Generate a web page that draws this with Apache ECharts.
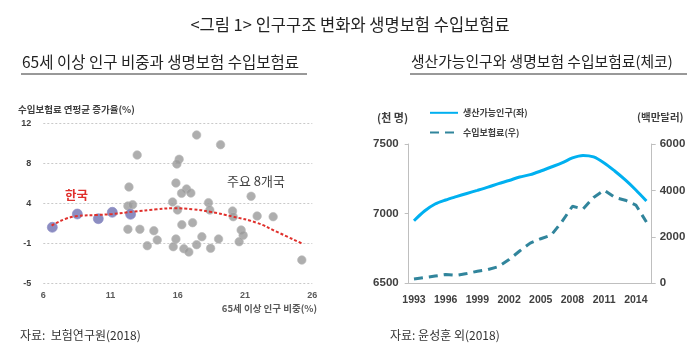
<!DOCTYPE html>
<html>
<head>
<meta charset="utf-8">
<script src="https://cdn.jsdelivr.net/npm/echarts@6/dist/echarts.min.js"></script>
<style>
html,body{margin:0;padding:0;background:#fff;}
#chart{width:700px;height:359px;}
</style>
</head>
<body>
<div id="chart"></div>
<script>
// ---------- Left chart data (scatter) ----------
const leftXTicks = [6, 11, 16, 21, 26];
const leftYTickLabels = ['-5', '-1', '4', '8', '12'];   // printed labels on evenly spaced gridlines
const koreaX = [6.67, 8.53, 10.09, 11.13, 12.49];
const koreaY = [0.6, 1.93, 1.46, 2.1, 1.9];
const othersX = [17.40, 19.18, 12.98, 16.10, 15.93, 12.37, 15.86, 16.65, 16.28, 16.97,
                 21.45, 15.61, 18.28, 12.29, 12.64, 15.98, 18.38, 20.07, 20.12, 21.90,
                 23.09, 12.29, 13.18, 14.22, 16.30, 17.10, 20.71, 20.86, 20.56, 14.47,
                 15.86, 17.79, 19.03, 13.73, 15.66, 17.40, 18.44, 16.45, 16.82, 25.22];
const othersY = [9.83, 8.86, 7.83, 7.4, 6.93, 4.63, 5.03, 4.43, 4.0, 4.03,
                 3.7, 3.13, 3.06, 2.73, 2.86, 2.33, 2.33, 2.23, 1.66, 1.73,
                 1.66, 0.4, 0.4, 0.26, 0.86, 1.06, 0.33, -0.2, -0.84, -0.67,
                 -0.57, -0.34, -0.57, -1.24, -1.34, -1.14, -1.5, -1.54, -1.87, -2.67];
const trendX = [6.62, 8.53, 9.97, 11.13, 12.69, 14.43, 15.66, 17.14, 18.38, 20.12, 21.85, 23.34, 25.2];
const trendY = [0.76, 1.73, 1.83, 1.93, 2.16, 2.4, 2.5, 2.4, 2.16, 1.66, 1.06, 0.16, -1.0];

// ---------- Right chart data (Czech) ----------
const years = ['1993','1994','1995','1996','1997','1998','1999','2000','2001','2002','2003','2004',
               '2005','2006','2007','2008','2009','2010','2011','2012','2013','2014','2015'];
const workingPop = [6949, 7019, 7069, 7098, 7122, 7145, 7167, 7190, 7216, 7238, 7263, 7280,
                    7306, 7335, 7364, 7400, 7418, 7407, 7364, 7306, 7242, 7170, 7091];
const premiums = [185, 250, 314, 378, 340, 420, 520, 590, 720, 1020, 1390, 1730,
                  1920, 2080, 2650, 3320, 3200, 3700, 4010, 3700, 3580, 3370, 2640];
const leftYTicksR = [6500, 7000, 7500];
const rightYTicksR = [0, 2000, 4000, 6000];

const KR = "'Noto Sans CJK KR', 'Noto Sans', sans-serif";
const NARROW = "'Liberation Sans Narrow', 'Liberation Sans', 'DejaVu Sans Condensed', sans-serif";

const chart = echarts.init(document.getElementById('chart'), null, {renderer: 'canvas'});

const option = {
  backgroundColor: '#ffffff',
  animation: false,
  grid: [
    {left: 43.3, width: 269, top: 123.3, height: 160},
    {left: 408.7, width: 243, top: 144, height: 139.3}
  ],
  legend: {
    orient: 'vertical',
    left: 424,
    top: 103,
    itemWidth: 28,
    itemHeight: 12,
    itemGap: 10,
    itemStyle: {color: 'rgba(0,0,0,0)', borderWidth: 0},
    data: ['생산가능인구(좌)', '수입보험료(우)'],
    textStyle: {fontFamily: KR, fontSize: 9, fontWeight: 'bold', color: '#404040'}
  },
  xAxis: [
    {
      gridIndex: 0, type: 'value', min: leftXTicks[0], max: leftXTicks[leftXTicks.length - 1], interval: 5,
      axisLine: {show: false}, axisTick: {show: false}, splitLine: {show: false},
      axisLabel: {fontFamily: 'Liberation Sans, sans-serif', fontSize: 9, fontWeight: 'bold', color: '#595959', margin: 8}
    },
    {
      gridIndex: 1, type: 'category', data: years, boundaryGap: true,
      axisLine: {lineStyle: {color: '#bfbfbf', width: 1}},
      axisTick: {interval: 2, length: 4, lineStyle: {color: '#bfbfbf'}},
      axisLabel: {interval: 2, fontFamily: NARROW, fontSize: 10.5, fontWeight: 'bold', color: '#404040', margin: 11},
      splitLine: {show: false}
    }
  ],
  yAxis: [
    {
      gridIndex: 0, type: 'value', min: -5, max: 11, interval: 4,
      axisLine: {show: false}, axisTick: {show: false},
      splitLine: {show: true, lineStyle: {type: [2, 2], color: '#c9c9c9', width: 1}},
      axisLabel: {
        fontFamily: 'Liberation Sans, sans-serif', fontSize: 9, fontWeight: 'bold', color: '#404040', margin: 12,
        formatter: function (v) { return leftYTickLabels[Math.round((v + 5) / 4)]; }
      }
    },
    {
      gridIndex: 1, type: 'value', min: leftYTicksR[0], max: leftYTicksR[leftYTicksR.length - 1], interval: 500,
      position: 'left',
      axisLine: {show: true, lineStyle: {color: '#bfbfbf'}},
      axisTick: {show: true, length: 4, lineStyle: {color: '#bfbfbf'}},
      splitLine: {show: false},
      axisLabel: {fontFamily: NARROW, fontSize: 11.5, fontWeight: 'bold', color: '#404040', margin: 10,
                  formatter: function (v) { return String(v); }}
    },
    {
      gridIndex: 1, type: 'value', min: rightYTicksR[0], max: rightYTicksR[rightYTicksR.length - 1], interval: 2000,
      position: 'right',
      axisLine: {show: true, lineStyle: {color: '#bfbfbf'}},
      axisTick: {show: true, length: 4, lineStyle: {color: '#bfbfbf'}},
      splitLine: {show: false},
      axisLabel: {fontFamily: NARROW, fontSize: 11.5, fontWeight: 'bold', color: '#404040', margin: 8,
                  formatter: function (v) { return String(v); }}
    }
  ],
  series: [
    {
      type: 'scatter', xAxisIndex: 0, yAxisIndex: 0, symbolSize: 8.5,
      itemStyle: {color: '#9a9a9a', borderColor: '#b8b8b8', borderWidth: 0.8},
      data: othersX.map((x, i) => [x, othersY[i]]), z: 3
    },
    {
      type: 'scatter', xAxisIndex: 0, yAxisIndex: 0, symbolSize: 10,
      itemStyle: {color: '#6f70b2', borderColor: '#8a8bc4', borderWidth: 0.8},
      data: koreaX.map((x, i) => [x, koreaY[i]]), z: 4
    },
    {
      type: 'line', xAxisIndex: 0, yAxisIndex: 0, smooth: true, symbol: 'none',
      lineStyle: {color: '#e0302c', width: 2, type: [3, 2]},
      data: trendX.map((x, i) => [x, trendY[i]]), z: 5
    },
    {
      name: '생산가능인구(좌)', type: 'line', xAxisIndex: 1, yAxisIndex: 1, symbol: 'none', smooth: 0.3,
      lineStyle: {color: '#00b0f0', width: 3},
      itemStyle: {color: '#00b0f0'},
      data: workingPop
    },
    {
      name: '수입보험료(우)', type: 'line', xAxisIndex: 1, yAxisIndex: 2, symbol: 'none',
      lineStyle: {color: '#31859c', width: 3, type: [9, 6]},
      itemStyle: {color: '#31859c'},
      data: premiums
    }
  ],
  graphic: [
    {type: 'text', left: 'center', top: 16,
     style: {text: '<그림 1> 인구구조 변화와 생명보험 수입보험료', fontFamily: KR, fontSize: 16.5, fill: '#222'}},
    {type: 'text', left: 22, top: 54,
     style: {text: '65세 이상 인구 비중과 생명보험 수입보험료', fontFamily: KR, fontSize: 15.5, fill: '#222'}},
    {type: 'line', shape: {x1: 21, y1: 74, x2: 307, y2: 74}, style: {stroke: '#333', lineWidth: 1}},
    {type: 'text', left: 411, top: 54,
     style: {text: '생산가능인구와 생명보험 수입보험료(체코)', fontFamily: KR, fontSize: 14.8, fill: '#222'}},
    {type: 'line', shape: {x1: 410, y1: 74, x2: 687, y2: 74}, style: {stroke: '#333', lineWidth: 1}},
    {type: 'text', left: 18, top: 105,
     style: {text: '수입보험료 연평균 증가율(%)', fontFamily: KR, fontSize: 9.5, fontWeight: 'bold', fill: '#404040'}},
    {type: 'text', left: 65, top: 189,
     style: {text: '한국', fontFamily: KR, fontSize: 12.5, fontWeight: 'bold', fill: '#e0302c'}},
    {type: 'text', left: 227, top: 175,
     style: {text: '주요 8개국', fontFamily: KR, fontSize: 13, fill: '#404040'}},
    {type: 'text', right: 383, top: 304,
     style: {text: '65세 이상 인구 비중(%)', fontFamily: KR, fontSize: 9.5, fontWeight: 'bold', fill: '#595959'}},
    {type: 'text', left: 20, top: 329,
     style: {text: '자료:  보험연구원(2018)', fontFamily: KR, fontSize: 12, fill: '#333'}},
    {type: 'text', left: 390, top: 329,
     style: {text: '자료: 윤성훈 외(2018)', fontFamily: KR, fontSize: 12, fill: '#333'}},
    {type: 'text', left: 377, top: 112,
     style: {text: '(천 명)', fontFamily: KR, fontSize: 11, fontWeight: 'bold', fill: '#404040'}},
    {type: 'text', left: 637, top: 112,
     style: {text: '(백만달러)', fontFamily: KR, fontSize: 10.5, fontWeight: 'bold', fill: '#404040'}}
  ]
};
chart.setOption(option);
</script>
</body>
</html>
